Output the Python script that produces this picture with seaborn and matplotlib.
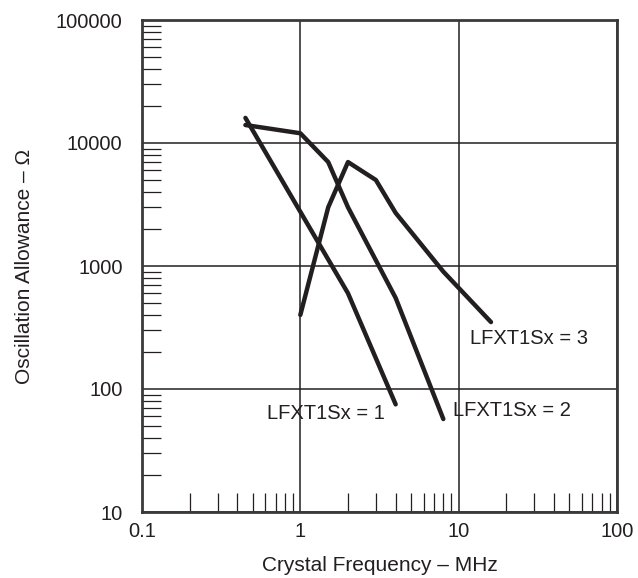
import matplotlib
matplotlib.use("Agg")
import matplotlib.pyplot as plt
import matplotlib.ticker as mticker
import seaborn as sns
import pandas as pd
import numpy as np

# Data
freq_1 = [0.45, 2.0, 4.0]
allow_1 = [16000, 600, 75]

freq_2 = [0.45, 1.0, 1.5, 2.0, 4.0, 8.0]
allow_2 = [14000, 12000, 7000, 3000, 550, 57]

freq_3 = [1.0, 1.5, 2.0, 3.0, 4.0, 8.0, 16.0]
allow_3 = [400, 3000, 7000, 5000, 2700, 900, 350]

series_names = ["LFXT1Sx = 1", "LFXT1Sx = 2", "LFXT1Sx = 3"]
label_x = [0.62, 9.2, 11.8]
label_y = [63, 67, 255]

x_ticks = [0.1, 1, 10, 100]
x_tick_labels = ["0.1", "1", "10", "100"]
y_ticks = [10, 100, 1000, 10000, 100000]
y_tick_labels = ["10", "100", "1000", "10000", "100000"]

df = pd.concat([
    pd.DataFrame({"freq": freq_1, "allow": allow_1, "series": series_names[0]}),
    pd.DataFrame({"freq": freq_2, "allow": allow_2, "series": series_names[1]}),
    pd.DataFrame({"freq": freq_3, "allow": allow_3, "series": series_names[2]}),
], ignore_index=True)

sns.set_style("white")
plt.rcParams["font.family"] = ["Liberation Sans", "DejaVu Sans"]

fig = plt.figure(figsize=(6.38, 5.78), dpi=100)
ax = fig.add_axes([142 / 638, 1 - 512 / 578, 475 / 638, 492 / 578])

line_color = "#231f20"
sns.lineplot(data=df, x="freq", y="allow", hue="series", sort=False,
             palette=[line_color] * 3, linewidth=3.2, legend=False, ax=ax,
             estimator=None)
for l in ax.get_lines():
    l.set_solid_capstyle("round")
    l.set_solid_joinstyle("round")

ax.set_xscale("log")
ax.set_yscale("log")
ax.set_xlim(0.1, 100)
ax.set_ylim(10, 100000)

ax.set_xticks(x_ticks)
ax.set_xticklabels(x_tick_labels)
ax.set_yticks(y_ticks)
ax.set_yticklabels(y_tick_labels)
ax.xaxis.set_minor_locator(mticker.LogLocator(base=10, subs=np.arange(2, 10)))
ax.yaxis.set_minor_locator(mticker.LogLocator(base=10, subs=np.arange(2, 10)))
ax.xaxis.set_minor_formatter(mticker.NullFormatter())
ax.yaxis.set_minor_formatter(mticker.NullFormatter())

ax.tick_params(axis="both", which="major", length=0, labelsize=14.5, colors="#231f20")
ax.tick_params(axis="y", which="major", pad=14)
ax.tick_params(axis="x", which="major", pad=7)
ax.tick_params(axis="both", which="minor", direction="in", length=13.5, width=0.9,
               color="#231f20")
ax.tick_params(axis="x", which="minor", bottom=True, top=False)
ax.tick_params(axis="y", which="minor", left=True, right=False)

ax.grid(True, which="major", color="#231f20", linewidth=1.1)
ax.grid(False, which="minor")

for s in ax.spines.values():
    s.set_color("#3a3a3a")
    s.set_linewidth(2.0)
    s.set_visible(True)

for name, lx, ly in zip(series_names, label_x, label_y):
    ax.text(lx, ly, name, fontsize=14.5, color="#231f20", va="center", ha="left")

ax.set_xlabel("Crystal Frequency – MHz", fontsize=15, color="#231f20", labelpad=11)
ax.set_ylabel("Oscillation Allowance – Ω", fontsize=15, color="#231f20", labelpad=16)

fig.savefig("out.png", dpi=100)
